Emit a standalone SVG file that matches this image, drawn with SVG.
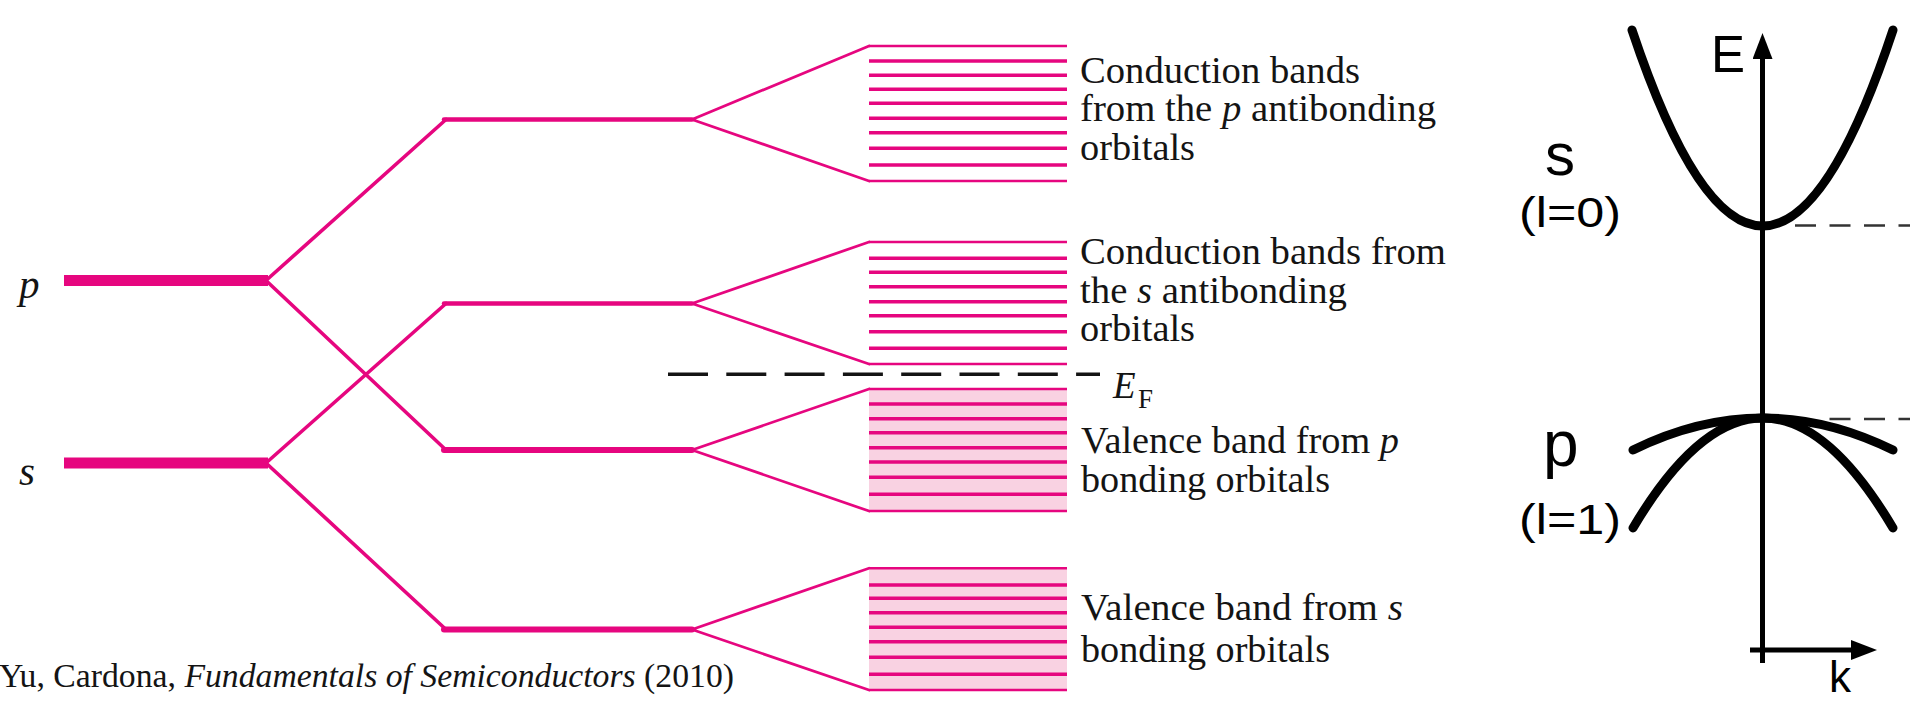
<svg xmlns="http://www.w3.org/2000/svg" width="1910" height="702" viewBox="0 0 1910 702">
<defs>
<style>
.mg{stroke:#e6067f;fill:none}
.atom{stroke-width:11}
.mo{stroke-width:4.5;stroke-linecap:round}
.mob{stroke-width:6;stroke-linecap:round}
.diag{stroke-width:3.6;stroke-linecap:round}
.fan{stroke-width:2.8;stroke-linecap:round}
.bl{stroke-width:3.4}
.be{stroke-width:2.4}
.vfill{fill:#f9d2e2}
.serif{font-family:"Liberation Serif","Times New Roman",serif;fill:#141414;stroke:none}
.lab{font-size:38px}
.it{font-style:italic}
.sans{font-family:"Liberation Sans",Arial,sans-serif;fill:#000;stroke:none}
.curve{stroke:#000;stroke-width:9;fill:none;stroke-linecap:round}
.axis{stroke:#000;stroke-width:5;fill:none}
.dash{stroke:#333;stroke-width:2.5;stroke-dasharray:21 13.5;fill:none}
</style>
<marker id="arrow" viewBox="0 0 26 20" refX="2" refY="10" markerWidth="26" markerHeight="20" markerUnits="userSpaceOnUse" orient="auto">
<path d="M0,0 L26,10 L0,20 z" fill="#000"/>
</marker>
</defs>
<rect x="0" y="0" width="1910" height="702" fill="#ffffff"/>

<!-- connectors -->
<g id="connectors" class="mg">
<path class="diag" d="M266,280.5 L446,119.5"/>
<path class="diag" d="M266,280.5 L446,450"/>
<path class="diag" d="M266,463 L446,303.5"/>
<path class="diag" d="M266,463 L446,629.5"/>
<path class="fan" d="M692,119.5 L869,46 M692,119.5 L869,181"/>
<path class="fan" d="M692,303.5 L869,242 M692,303.5 L869,364"/>
<path class="fan" d="M692,450 L869,389 M692,450 L869,511"/>
<path class="fan" d="M692,629.5 L869,568.3 M692,629.5 L869,690"/>
</g>

<!-- atomic levels -->
<g id="atom-p">
<line class="mg atom" x1="64" y1="280.5" x2="268" y2="280.5"/>
<text class="serif it" x="19" y="298" font-size="41">p</text>
</g>
<g id="atom-s">
<line class="mg atom" x1="64" y1="463" x2="268" y2="463"/>
<text class="serif it" x="19" y="485" font-size="41">s</text>
</g>

<!-- molecular levels -->
<g id="mo-p-anti"><line class="mg mo" x1="444" y1="119.5" x2="692" y2="119.5"/></g>
<g id="mo-s-anti"><line class="mg mo" x1="444" y1="303.5" x2="692" y2="303.5"/></g>
<g id="mo-p-bond"><line class="mg mob" x1="444" y1="450" x2="692" y2="450"/></g>
<g id="mo-s-bond"><line class="mg mob" x1="444" y1="629.5" x2="692" y2="629.5"/></g>

<!-- bands -->
<g id="band-p-anti">
<g class="mg">
<line class="be" x1="869" y1="46" x2="1067" y2="46"/>
<line class="bl" x1="869" y1="61" x2="1067" y2="61"/>
<line class="bl" x1="869" y1="75.3" x2="1067" y2="75.3"/>
<line class="bl" x1="869" y1="89.3" x2="1067" y2="89.3"/>
<line class="bl" x1="869" y1="103.3" x2="1067" y2="103.3"/>
<line class="bl" x1="869" y1="118.3" x2="1067" y2="118.3"/>
<line class="bl" x1="869" y1="132.7" x2="1067" y2="132.7"/>
<line class="bl" x1="869" y1="148.3" x2="1067" y2="148.3"/>
<line class="bl" x1="869" y1="165" x2="1067" y2="165"/>
<line class="be" x1="869" y1="181" x2="1067" y2="181"/>
</g>
<text class="serif lab" x="1080" y="82.5" textLength="280" lengthAdjust="spacingAndGlyphs">Conduction bands</text>
<text class="serif lab" x="1080" y="121" textLength="356" lengthAdjust="spacingAndGlyphs">from the <tspan class="it">p</tspan> antibonding</text>
<text class="serif lab" x="1080" y="159.5" textLength="115" lengthAdjust="spacingAndGlyphs">orbitals</text>
</g>

<g id="band-s-anti">
<g class="mg">
<line class="be" x1="869" y1="242" x2="1067" y2="242"/>
<line class="bl" x1="869" y1="258.3" x2="1067" y2="258.3"/>
<line class="bl" x1="869" y1="272.3" x2="1067" y2="272.3"/>
<line class="bl" x1="869" y1="286.7" x2="1067" y2="286.7"/>
<line class="bl" x1="869" y1="301.7" x2="1067" y2="301.7"/>
<line class="bl" x1="869" y1="315.7" x2="1067" y2="315.7"/>
<line class="bl" x1="869" y1="331.7" x2="1067" y2="331.7"/>
<line class="bl" x1="869" y1="348.3" x2="1067" y2="348.3"/>
<line class="be" x1="869" y1="364" x2="1067" y2="364"/>
</g>
<text class="serif lab" x="1080" y="264" textLength="366" lengthAdjust="spacingAndGlyphs">Conduction bands from</text>
<text class="serif lab" x="1080" y="302.5" textLength="267" lengthAdjust="spacingAndGlyphs">the <tspan class="it">s</tspan> antibonding</text>
<text class="serif lab" x="1080" y="341" textLength="115" lengthAdjust="spacingAndGlyphs">orbitals</text>
</g>

<g id="fermi">
<line x1="668" y1="374.3" x2="1100" y2="374.3" stroke="#141414" stroke-width="3.5" stroke-dasharray="40 18.3"/>
<text class="serif it" x="1113" y="398" font-size="37">E</text>
<text class="serif" x="1138" y="408" font-size="27">F</text>
</g>

<g id="band-p-bond">
<rect class="vfill" x="869" y="389" width="198" height="122"/>
<g class="mg">
<line class="be" x1="869" y1="389" x2="1067" y2="389"/>
<line class="bl" x1="869" y1="404" x2="1067" y2="404"/>
<line class="bl" x1="869" y1="418.7" x2="1067" y2="418.7"/>
<line class="bl" x1="869" y1="432.7" x2="1067" y2="432.7"/>
<line class="bl" x1="869" y1="447.7" x2="1067" y2="447.7"/>
<line class="bl" x1="869" y1="462" x2="1067" y2="462"/>
<line class="bl" x1="869" y1="477.3" x2="1067" y2="477.3"/>
<line class="bl" x1="869" y1="494.3" x2="1067" y2="494.3"/>
<line class="be" x1="869" y1="511" x2="1067" y2="511"/>
</g>
<text class="serif lab" x="1081" y="453.3" textLength="318" lengthAdjust="spacingAndGlyphs">Valence band from <tspan class="it">p</tspan></text>
<text class="serif lab" x="1081" y="491.7" textLength="249" lengthAdjust="spacingAndGlyphs">bonding orbitals</text>
</g>

<g id="band-s-bond">
<rect class="vfill" x="869" y="568.3" width="198" height="121.7"/>
<g class="mg">
<line class="be" x1="869" y1="568.3" x2="1067" y2="568.3"/>
<line class="bl" x1="869" y1="585" x2="1067" y2="585"/>
<line class="bl" x1="869" y1="598.3" x2="1067" y2="598.3"/>
<line class="bl" x1="869" y1="612.7" x2="1067" y2="612.7"/>
<line class="bl" x1="869" y1="627.3" x2="1067" y2="627.3"/>
<line class="bl" x1="869" y1="641.7" x2="1067" y2="641.7"/>
<line class="bl" x1="869" y1="657.3" x2="1067" y2="657.3"/>
<line class="bl" x1="869" y1="674.3" x2="1067" y2="674.3"/>
<line class="be" x1="869" y1="690" x2="1067" y2="690"/>
</g>
<text class="serif lab" x="1081" y="620" textLength="322" lengthAdjust="spacingAndGlyphs">Valence band from <tspan class="it">s</tspan></text>
<text class="serif lab" x="1081" y="661.7" textLength="249" lengthAdjust="spacingAndGlyphs">bonding orbitals</text>
</g>

<g id="caption">
<text class="serif" x="-1" y="687" font-size="34" textLength="735" lengthAdjust="spacingAndGlyphs">Yu, Cardona, <tspan class="it">Fundamentals of Semiconductors</tspan> (2010)</text>
</g>

<!-- right panel: band dispersion -->
<g id="dispersion">
<line class="dash" x1="1795" y1="225.5" x2="1910" y2="225.5"/>
<line class="dash" x1="1829.5" y1="419" x2="1910" y2="419"/>
<path class="curve" d="M1632,30 Q1763,422 1893,30"/>
<path class="curve" d="M1633,450 Q1763,386 1893,450"/>
<path class="curve" d="M1633,528 Q1763,308 1893,528"/>
<line class="axis" x1="1762.5" y1="663" x2="1762.5" y2="57" marker-end="url(#arrow)"/>
<line class="axis" x1="1750" y1="650" x2="1853" y2="650" marker-end="url(#arrow)"/>
<text class="sans" x="1711" y="71.5" font-size="51">E</text>
<text class="sans" x="1829" y="692" font-size="44">k</text>
<text class="sans" x="1545" y="175" font-size="60">s</text>
<text class="sans" x="1519" y="227" font-size="42" textLength="102" lengthAdjust="spacingAndGlyphs">(l=0)</text>
<text class="sans" x="1543" y="466" font-size="64">p</text>
<text class="sans" x="1519" y="534" font-size="42" textLength="102" lengthAdjust="spacingAndGlyphs">(l=1)</text>
</g>
</svg>
